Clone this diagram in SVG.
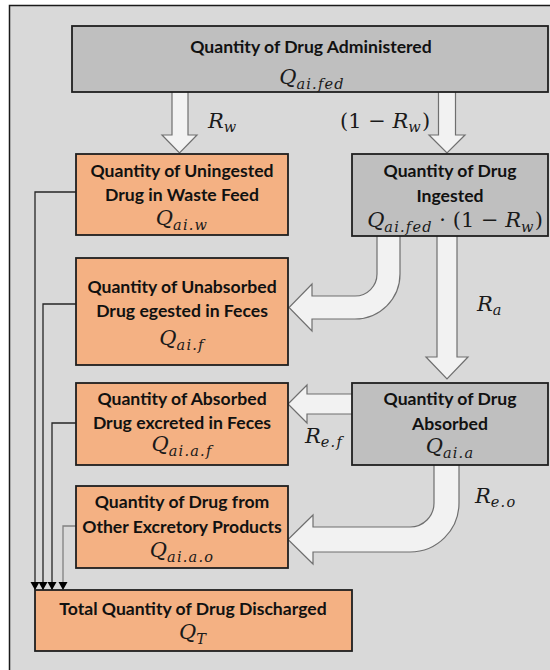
<svg xmlns="http://www.w3.org/2000/svg" width="550" height="670" viewBox="0 0 550 670">
<style>
.frame{fill:#d9d9d9;stroke:#1a1a1a;stroke-width:1.5}
.gray{fill:#bfbfbf;stroke:#1f1f1f;stroke-width:1.8}
.org{fill:#f4b183;stroke:#1f1f1f;stroke-width:1.8}
.arr{fill:#f2f2f2;stroke:#6f6f6f;stroke-width:1.2;stroke-linejoin:miter}
.t{font-family:Lato,"Liberation Sans",sans-serif;font-weight:bold;font-size:17.6px;fill:#111;text-anchor:middle}
.m{font-family:"DejaVu Serif","Liberation Serif",serif;font-style:italic;font-size:21px;fill:#1a1a1a}
.s{font-size:14.5px;letter-spacing:1.2px}
.u{font-style:normal}
.c{fill:none;stroke:#262626;stroke-width:1.3}
.c2{fill:none;stroke:#808080;stroke-width:1.3}
</style>
<defs>
<marker id="ah" markerUnits="userSpaceOnUse" markerWidth="10" markerHeight="10" refX="8.5" refY="5" orient="auto" viewBox="0 0 10 10">
<path d="M0.5,0.5 L8.5,5 L0.5,9.5 Z" fill="#000"/>
</marker>
</defs>
<rect class="frame" x="9.5" y="5.5" width="620" height="720"/>

<g id="connectors">
<path class="c" d="M76,192 H35 V590" marker-end="url(#ah)"/>
<path class="c" d="M76,304 H43 V590" marker-end="url(#ah)"/>
<path class="c" d="M76,423 H52 V590" marker-end="url(#ah)"/>
<path class="c2" d="M76,526 H63 V590" marker-end="url(#ah)"/>
<path id="arrow-rw" class="arr" d="M172,92 V135 H162 L179.5,153 L197,135 H188 V92"/>
<path id="arrow-1rw" class="arr" d="M438.5,92 V135 H429 L447,153 L465,135 H455.5 V92"/>
<path id="arrow-unabs" class="arr" d="M377,236 V274 A22,22 0 0 1 355,296 H312 V284 L289,307.5 L312,331 V319 H355 A45,45 0 0 0 400,274 V236"/>
<path id="arrow-ra" class="arr" d="M437,236 V357 H426 L447,379 L468,357 H457 V236"/>
<path id="arrow-ref" class="arr" d="M352,394 H307 V385 L288,404 L307,423 V414 H352"/>
<path id="arrow-reo" class="arr" d="M434,465 V503 A24,24 0 0 1 410,527 H313 V515 L288,539.5 L313,564 V552 H410 A49,49 0 0 0 459,503 V465"/>
<text class="m" x="208" y="128">R<tspan class="s" dy="4">w</tspan></text>
<text class="m" x="340" y="128"><tspan class="u">(1 − </tspan>R<tspan class="s" dy="4">w</tspan><tspan class="u" dy="-4">)</tspan></text>
<text class="m" x="477" y="311">R<tspan class="s" dy="4">a</tspan></text>
<text class="m" x="305" y="443">R<tspan class="s" dy="4">e.f</tspan></text>
<text class="m" x="475" y="503">R<tspan class="s" dy="4">e.o</tspan></text>
</g>

<g id="node-administered">
<rect class="gray" x="72" y="26" width="476" height="66"/>
<text class="t" x="311" y="53">Quantity of Drug Administered</text>
<text class="m" x="312" y="84" text-anchor="middle">Q<tspan class="s" dy="5">ai.fed</tspan></text>
</g>

<g id="node-uningested">
<rect class="org" x="76" y="154" width="212" height="81"/>
<text class="t" x="182" y="177">Quantity of Uningested</text>
<text class="t" x="182" y="201">Drug in Waste Feed</text>
<text class="m" x="182" y="225" text-anchor="middle">Q<tspan class="s" dy="5">ai.w</tspan></text>
</g>

<g id="node-ingested">
<rect class="gray" x="352" y="154" width="196" height="82"/>
<text class="t" x="450" y="177">Quantity of Drug</text>
<text class="t" x="450" y="202">Ingested</text>
<text class="m" x="455" y="227" text-anchor="middle">Q<tspan class="s" dy="5">ai.fed</tspan><tspan class="u" dy="-5"> · (1 − </tspan>R<tspan class="s" dy="5">w</tspan><tspan class="u" dy="-5">)</tspan></text>
</g>

<g id="node-unabsorbed">
<rect class="org" x="76" y="258" width="212" height="107"/>
<text class="t" x="182" y="293">Quantity of Unabsorbed</text>
<text class="t" x="182" y="317">Drug egested in Feces</text>
<text class="m" x="182" y="345" text-anchor="middle">Q<tspan class="s" dy="5">ai.f</tspan></text>
</g>

<g id="node-absorbed-feces">
<rect class="org" x="76" y="383" width="212" height="82"/>
<text class="t" x="182" y="405">Quantity of Absorbed</text>
<text class="t" x="182" y="429">Drug excreted in Feces</text>
<text class="m" x="182" y="451" text-anchor="middle">Q<tspan class="s" dy="5">ai.a.f</tspan></text>
</g>

<g id="node-absorbed">
<rect class="gray" x="352" y="383" width="196" height="82"/>
<text class="t" x="450" y="405">Quantity of Drug</text>
<text class="t" x="450" y="430">Absorbed</text>
<text class="m" x="450" y="453" text-anchor="middle">Q<tspan class="s" dy="5">ai.a</tspan></text>
</g>

<g id="node-other">
<rect class="org" x="76" y="486" width="212" height="82"/>
<text class="t" x="182" y="508">Quantity of Drug from</text>
<text class="t" x="182" y="533">Other Excretory Products</text>
<text class="m" x="182" y="557" text-anchor="middle">Q<tspan class="s" dy="5">ai.a.o</tspan></text>
</g>

<g id="node-total">
<rect class="org" x="35" y="590" width="317" height="61"/>
<text class="t" x="193" y="615">Total Quantity of Drug Discharged</text>
<text class="m" x="193" y="639" text-anchor="middle">Q<tspan class="s" dy="5">T</tspan></text>
</g>
</svg>
